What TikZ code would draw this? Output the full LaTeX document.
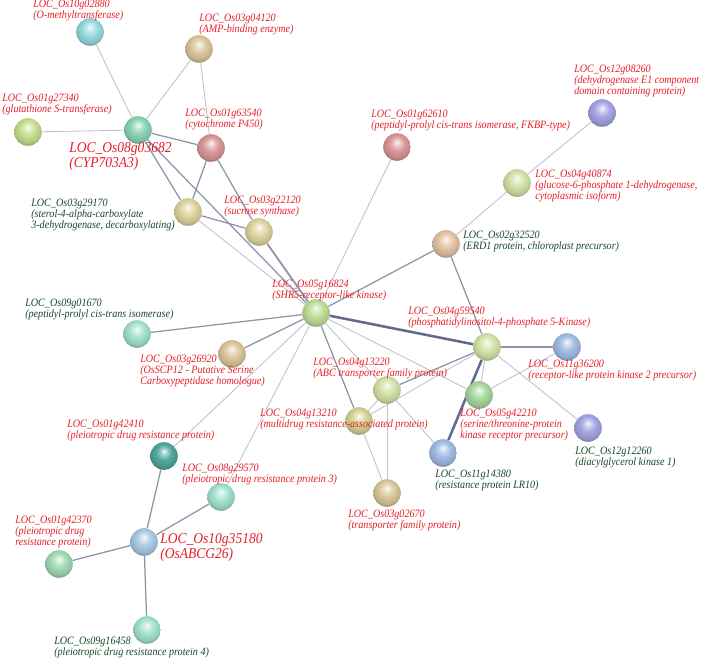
\documentclass[tikz,border=0pt]{standalone}
\usepackage{fontspec}
\setmainfont{Liberation Serif}[FakeStretch=0.9]
\usepackage{xcolor}
\usetikzlibrary{positioning,backgrounds}

\definecolor{lblred}{RGB}{232,30,38}
\definecolor{lblgreen}{RGB}{24,72,42}
\definecolor{edgelight}{RGB}{188,193,205}
\definecolor{edgemid}{RGB}{142,148,172}
\definecolor{edgedark}{RGB}{98,106,142}
\definecolor{cyanb}{RGB}{150,218,222}
\definecolor{tanb}{RGB}{218,200,155}
\definecolor{limeb}{RGB}{198,222,145}
\definecolor{paleb}{RGB}{212,226,168}
\definecolor{tealb}{RGB}{140,212,182}
\definecolor{pinkb}{RGB}{218,152,152}
\definecolor{sandb}{RGB}{222,212,160}
\definecolor{oliveb}{RGB}{212,212,150}
\definecolor{lavb}{RGB}{165,165,228}
\definecolor{peachb}{RGB}{228,195,165}
\definecolor{greenb}{RGB}{192,222,152}
\definecolor{mintb}{RGB}{162,226,206}
\definecolor{blueb}{RGB}{162,188,228}
\definecolor{leafb}{RGB}{168,216,158}
\definecolor{dtealb}{RGB}{82,168,156}
\definecolor{skyb}{RGB}{168,202,228}
\definecolor{seab}{RGB}{162,218,182}
\colorlet{sphcol}{gray}
\pgfdeclareradialshading[sphcol]{sphere}{\pgfqpoint{0bp}{9bp}}{%
  color(0bp)=(sphcol!8!white); color(6bp)=(sphcol!55!white);
  color(14bp)=(sphcol); color(24bp)=(sphcol!88!black);
  color(32bp)=(sphcol!62!black); color(50bp)=(sphcol!62!black)}

\begin{document}
\begin{tikzpicture}[x=0.025cm, y=-0.025cm,
        prot/.style={circle, inner sep=0pt, minimum size=0.69cm, /utils/exec={\colorlet{sphcol}{#1}}, shading=sphere},
        lbl/.style={anchor=north west, inner sep=0pt, align=left, text=lblred, font=\fontsize{8}{7.7}\selectfont\itshape},
        lblg/.style={lbl, text=lblgreen},
        lblbig/.style={lbl, font=\fontsize{10.7}{9.4}\selectfont\itshape},
        linkweak/.style={draw=edgelight, line width=0.6pt},
        linkmid/.style={draw=edgemid, line width=0.9pt},
        linkstrong/.style={draw=edgedark, line width=1.8pt}
    ]
    \useasboundingbox (0,0) rectangle (702,661);
    % Proteins
    \node[prot=cyanb] (n10g02880) at (90,32) {};
    \node[prot=tanb] (n03g04120) at (199,49) {};
    \node[prot=limeb] (n01g27340) at (28,132) {};
    \node[prot=tealb] (n08g03682) at (138,130) {};
    \node[prot=pinkb] (n01g63540) at (211,148) {};
    \node[prot=sandb] (n03g29170) at (188,212) {};
    \node[prot=sandb] (n03g22120) at (259,232) {};
    \node[prot=pinkb] (n01g62610) at (397,147) {};
    \node[prot=lavb] (n12g08260) at (602,113) {};
    \node[prot=paleb] (n04g40874) at (517,183) {};
    \node[prot=peachb] (n02g32520) at (446,244) {};
    \node[prot=greenb] (n05g16824) at (316,313) {};
    \node[prot=mintb] (n09g01670) at (137,334) {};
    \node[prot=tanb] (n03g26920) at (232,354) {};
    \node[prot=paleb] (n04g59540) at (487,347) {};
    \node[prot=blueb] (n11g36200) at (567,347) {};
    \node[prot=paleb] (n04g13220) at (387,390) {};
    \node[prot=oliveb] (n04g13210) at (359,421) {};
    \node[prot=leafb] (n05g42210) at (479,395) {};
    \node[prot=blueb] (n11g14380) at (443,453) {};
    \node[prot=lavb] (n12g12260) at (588,428) {};
    \node[prot=tanb] (n03g02670) at (387,493) {};
    \node[prot=dtealb] (n01g42410) at (164,456) {};
    \node[prot=mintb] (n08g29570) at (221,497) {};
    \node[prot=skyb] (n10g35180) at (144,542) {};
    \node[prot=seab] (n01g42370) at (59,564) {};
    \node[prot=mintb] (n09g16458) at (147,630) {};
    % Labels
    \node[lbl] (t10g02880) at (33,0) {LOC\_Os10g02880\\ (O-methyltransferase)};
    \node[lbl] (t03g04120) at (199,14) {LOC\_Os03g04120\\ (AMP-binding enzyme)};
    \node[lbl] (t01g27340) at (2,94) {LOC\_Os01g27340\\(glutathione S-transferase)};
    \node[lbl] (t01g63540) at (185,109) {LOC\_Os01g63540\\(cytochrome P450)};
    \node[lblbig] (t08g03682) at (69,142) {LOC\_Os08g03682\\ (CYP703A3)};
    \node[lbl] (t12g08260) at (574,65) {LOC\_Os12g08260\\(dehydrogenase E1 component\\domain containing protein)};
    \node[lbl] (t01g62610) at (371,110) {LOC\_Os01g62610\\ (peptidyl-prolyl cis-trans isomerase, FKBP-type)};
    \node[lblg] (t03g29170) at (31,199) {LOC\_Os03g29170\\(sterol-4-alpha-carboxylate\\ 3-dehydrogenase, decarboxylating)};
    \node[lbl] (t03g22120) at (224,196) {LOC\_Os03g22120\\(sucrose synthase)};
    \node[lbl] (t05g16824) at (272,280) {LOC\_Os05g16824\\(SHR5-receptor-like kinase)};
    \node[lbl] (t04g40874) at (535,170) {LOC\_Os04g40874\\ (glucose-6-phosphate 1-dehydrogenase,\\cytoplasmic isoform)};
    \node[lblg] (t02g32520) at (463,231) {LOC\_Os02g32520\\(ERD1 protein, chloroplast precursor)};
    \node[lblg] (t09g01670) at (25,299) {LOC\_Os09g01670\\ (peptidyl-prolyl cis-trans isomerase)};
    \node[lbl] (t03g26920) at (140,355) {LOC\_Os03g26920\\(OsSCP12 - Putative Serine\\ Carboxypeptidase homologue)};
    \node[lbl] (t04g59540) at (408,307) {LOC\_Os04g59540\\(phosphatidylinositol-4-phosphate 5-Kinase)};
    \node[lbl] (t04g13220) at (313,358) {LOC\_Os04g13220\\ (ABC transporter family protein)};
    \node[lbl] (t11g36200) at (528,360) {LOC\_Os11g36200\\(receptor-like protein kinase 2 precursor)};
    \node[lbl] (t04g13210) at (260,409) {LOC\_Os04g13210\\(multidrug resistance-associated protein)};
    \node[lbl] (t05g42210) at (460,409) {LOC\_Os05g42210\\ (serine/threonine-protein\\kinase receptor precursor)};
    \node[lbl] (t01g42410) at (67,420) {LOC\_Os01g42410\\ (pleiotropic drug resistance protein)};
    \node[lblg] (t12g12260) at (575,447) {LOC\_Os12g12260\\(diacylglycerol kinase 1)};
    \node[lbl] (t08g29570) at (182,464) {LOC\_Os08g29570\\ (pleiotropic drug resistance protein 3)};
    \node[lblg] (t11g14380) at (435,470) {LOC\_Os11g14380\\(resistance protein LR10)};
    \node[lbl] (t03g02670) at (348,510) {LOC\_Os03g02670\\(transporter family protein)};
    \node[lbl] (t01g42370) at (15,516) {LOC\_Os01g42370\\ (pleiotropic drug\\resistance protein)};
    \node[lblbig] (t10g35180) at (160,533) {LOC\_Os10g35180\\(OsABCG26)};
    \node[lblg] (t09g16458) at (54,637) {LOC\_Os09g16458\\(pleiotropic drug resistance protein 4)};
    % Links
    \begin{scope}[on background layer]
    \fill[white] (0,0) rectangle (702,661);
    \draw[linkweak] (n10g02880) -- (n08g03682);
    \draw[linkweak] (n03g04120) -- (n08g03682);
    \draw[linkweak] (n03g04120) -- (n01g63540);
    \draw[linkweak] (n01g27340) -- (n08g03682);
    \draw[linkmid] (n08g03682) -- (n01g63540);
    \draw[linkmid] (n08g03682) -- (n03g29170);
    \draw[linkmid] (n08g03682) -- (n05g16824);
    \draw[linkmid] (n01g63540) -- (n03g29170);
    \draw[linkmid] (n01g63540) -- (n03g22120);
    \draw[linkmid] (n03g29170) -- (n03g22120);
    \draw[linkweak] (n03g29170) -- (n05g16824);
    \draw[linkmid, line width=1.3pt] (n03g22120) -- (n05g16824);
    \draw[linkweak] (n05g16824) -- (n01g62610);
    \draw[linkmid] (n05g16824) -- (n02g32520);
    \draw[linkweak] (n02g32520) -- (n04g40874);
    \draw[linkweak] (n04g40874) -- (n12g08260);
    \draw[linkmid] (n02g32520) -- (n04g59540);
    \draw[linkstrong] (n05g16824) -- (n04g59540);
    \draw[linkmid] (n05g16824) -- (n09g01670);
    \draw[linkmid] (n05g16824) -- (n03g26920);
    \draw[linkweak] (n05g16824) -- (n01g42410);
    \draw[linkweak] (n05g16824) -- (n08g29570);
    \draw[linkmid] (n05g16824) -- (n04g13210);
    \draw[linkweak] (n05g16824) -- (n04g13220);
    \draw[linkweak] (n05g16824) -- (n05g42210);
    \draw[linkmid] (n04g13220) -- (n04g59540);
    \draw[linkweak] (n04g13210) -- (n04g59540);
    \draw[linkweak] (n04g13220) -- (n04g13210);
    \draw[linkweak] (n04g13220) -- (n03g02670);
    \draw[linkweak] (n04g13210) -- (n03g02670);
    \draw[linkweak] (n04g13220) -- (n11g14380);
    \draw[linkmid, line width=1.4pt] (n04g59540) -- (n11g36200);
    \draw[linkweak] (n04g59540) -- (n05g42210);
    \draw[linkstrong] (n04g59540) -- (n11g14380);
    \draw[linkweak] (n05g42210) -- (n11g36200);
    \draw[linkweak] (n04g59540) -- (n12g12260);
    \draw[linkmid] (n10g35180) -- (n01g42410);
    \draw[linkmid] (n10g35180) -- (n08g29570);
    \draw[linkmid] (n10g35180) -- (n01g42370);
    \draw[linkmid] (n10g35180) -- (n09g16458);
    \end{scope}
\end{tikzpicture}
\end{document}
